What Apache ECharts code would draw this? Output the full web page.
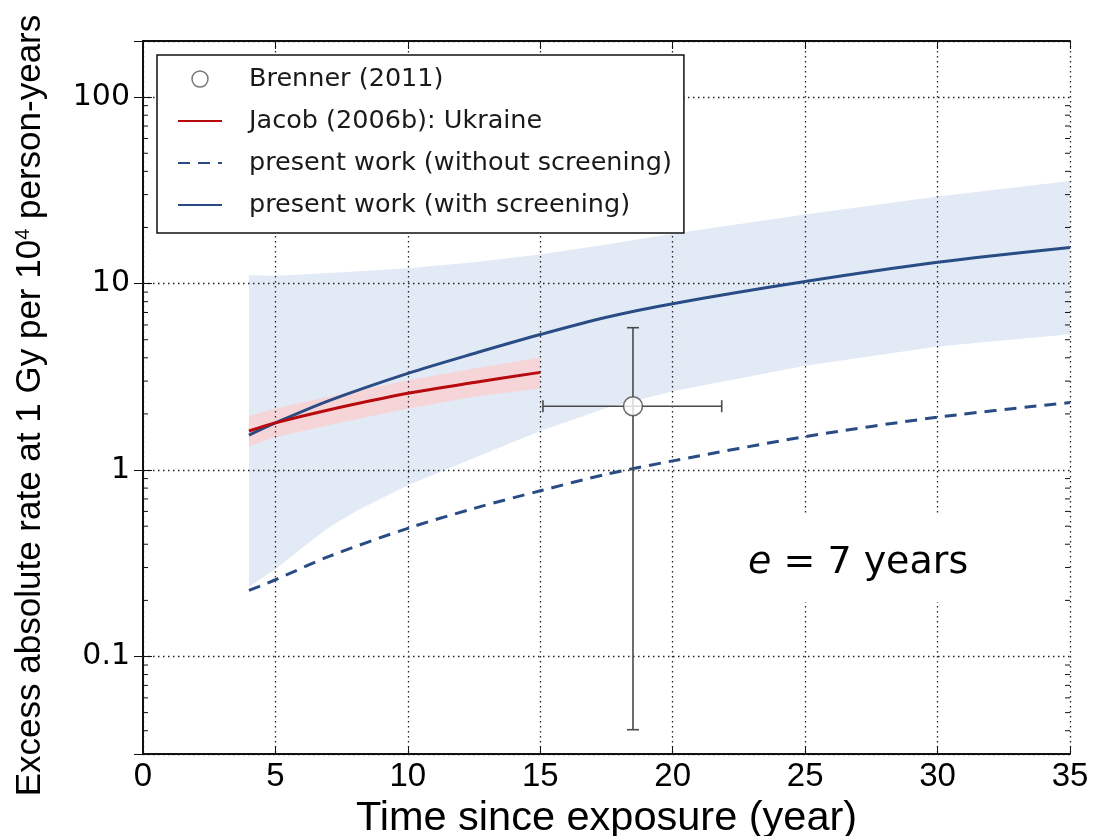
<!DOCTYPE html>
<html>
<head>
<meta charset="utf-8">
<script src="https://cdn.jsdelivr.net/npm/echarts@6/dist/echarts.min.js"></script>
<style>
  html, body { margin: 0; padding: 0; background: #fff; }
  #chart { width: 1093px; height: 836px; }
</style>
</head>
<body>
<div id="chart"></div>
<script>
// Model curves: excess absolute rate vs. time since exposure (years)
const curveYears        = [4, 5, 7, 10, 12.5, 15, 17.5, 20, 25, 30, 35];
const withScreening     = [1.54, 1.79, 2.35, 3.30, 4.22, 5.33, 6.6, 7.8, 10.25, 13.0, 15.6];
const withoutScreening  = [0.226, 0.258, 0.343, 0.487, 0.623, 0.774, 0.95, 1.12, 1.51, 1.92, 2.30];

// Uncertainty band of the screening model
const bandYears = [4, 5, 6, 7, 8, 10, 12.5, 15, 17.5, 20, 25, 30, 35];
const bandUpper = [11.1, 11.0, 11.2, 11.4, 11.6, 12.1, 13.0, 14.3, 16.2, 18.5, 23.5, 29.3, 35.5];
const bandLower = [0.236, 0.295, 0.382, 0.49, 0.598, 0.83, 1.16, 1.62, 2.15, 2.65, 3.62, 4.6, 5.35];

// Jacob (2006b), Ukraine, with its band
const jacobYears = [4, 5, 7, 10, 12.5, 15];
const jacobRate  = [1.62, 1.79, 2.10, 2.58, 2.95, 3.34];
const jacobUpper = [1.95, 2.14, 2.47, 3.03, 3.5, 4.01];
const jacobLower = [1.34, 1.50, 1.74, 2.14, 2.47, 2.74];

// Brenner (2011): point estimate with x and y ranges
const brennerPoint = [18.5, 2.2];
const brennerXRange = [15.1, 21.85];
const brennerYRange = [0.0405, 5.8];

// Axis ticks
const xTicks = [0, 5, 10, 15, 20, 25, 30, 35];
const minorTicks = [0.04, 0.05, 0.06, 0.07, 0.08, 0.09,
                    0.2, 0.3, 0.4, 0.5, 0.6, 0.7, 0.8, 0.9,
                    2, 3, 4, 5, 6, 7, 8, 9,
                    20, 30, 40, 50, 60, 70, 80, 90];

const names = {
  brenner: 'Brenner (2011)',
  jacob: 'Jacob (2006b): Ukraine',
  without: 'present work (without screening)',
  with: 'present work (with screening)'
};

const BLUE = '#2a4c85';
const RED = '#b70a0f';
const ARIAL = '"Liberation Sans", Arial, Helvetica, sans-serif';
const WIDE = '"DejaVu Sans", Verdana, sans-serif';

const zip = (xs, ys) => xs.map((x, i) => [x, ys[i]]);

function bandSeries(xs, upper, lower, fill) {
  return {
    type: 'custom',
    silent: true,
    z: 0,
    data: [[xs[0], upper[0]]],
    renderItem(params, api) {
      const pts = [];
      xs.forEach((x, i) => pts.push(api.coord([x, upper[i]])));
      for (let i = xs.length - 1; i >= 0; i--) pts.push(api.coord([xs[i], lower[i]]));
      return { type: 'polygon', shape: { points: pts }, style: { fill: fill } };
    }
  };
}

const chart = echarts.init(document.getElementById('chart'), null, { renderer: 'canvas' });

const frameLine = { show: true, lineStyle: { color: '#111', width: 2 } };
const gridDots = { show: true, lineStyle: { color: '#222', width: 1.3, type: [1.5, 3.5] } };
const hiddenSymbol = { opacity: 0 };

chart.setOption({
  animation: false,
  backgroundColor: '#fff',
  grid: { left: 143, right: 23, top: 41, bottom: 82, containLabel: false, outerBoundsMode: 'none' },
  legend: {
    orient: 'vertical',
    left: 157,
    top: 55,
    padding: [11, 12, 15, 20],
    itemGap: 16,
    itemWidth: 44,
    itemHeight: 16,
    backgroundColor: '#fff',
    borderColor: '#111',
    borderWidth: 1.5,
    borderRadius: 0,
    z: 10,
    textStyle: { fontFamily: WIDE, fontSize: 25.5, color: '#1a1a1a', lineHeight: 26, padding: [0, 0, 0, 22] },
    data: [
      { name: names.brenner, icon: 'circle', itemStyle: { color: '#fff', borderColor: '#555', borderWidth: 1.5 } },
      { name: names.jacob, itemStyle: hiddenSymbol },
      { name: names.without, itemStyle: hiddenSymbol },
      { name: names.with, itemStyle: hiddenSymbol }
    ]
  },
  xAxis: [
    {
      type: 'value', position: 'bottom', min: 0, max: 35, interval: 5, z: 1,
      axisLine: frameLine,
      axisTick: { show: true, inside: true, length: 8, lineStyle: { color: '#111', width: 1 } },
      axisLabel: { fontFamily: ARIAL, fontSize: 33, color: '#000', margin: 6,
                   formatter: v => xTicks.includes(v) ? String(v) : '' },
      splitLine: gridDots,
      name: 'Time since exposure (year)',
      nameLocation: 'middle',
      nameGap: 33,
      nameTextStyle: { fontFamily: ARIAL, fontSize: 41.5, color: '#000' }
    },
    {
      type: 'value', position: 'top', min: 0, max: 35, interval: 5, z: 1,
      axisLine: frameLine,
      axisTick: { show: true, inside: true, length: 8, lineStyle: { color: '#111', width: 1 } },
      axisLabel: { show: false },
      splitLine: { show: false }
    }
  ],
  yAxis: [
    {
      type: 'log', logBase: 10, position: 'left', min: 0.03, max: 200, z: 1,
      axisLine: frameLine,
      axisTick: { show: true, inside: true, length: 9, lineStyle: { color: '#111', width: 1 } },
      axisLabel: { fontFamily: WIDE, fontSize: 30, color: '#000', margin: 13,
                   showMinLabel: false, showMaxLabel: false },
      splitLine: gridDots,
      name: 'Excess absolute rate at 1 Gy per 10{sup|4} person-years',
      nameLocation: 'middle',
      nameGap: 95,
      nameTextStyle: {
        fontFamily: ARIAL, fontSize: 35, color: '#000', padding: [0, 16, 0, 0],
        rich: { sup: { fontFamily: ARIAL, fontSize: 20, color: '#000', verticalAlign: 'top', lineHeight: 35 } }
      }
    },
    {
      type: 'log', logBase: 10, position: 'right', min: 0.03, max: 200, z: 1,
      axisLine: frameLine,
      axisTick: { show: true, inside: true, length: 9, lineStyle: { color: '#111', width: 1 } },
      axisLabel: { show: false },
      splitLine: { show: false }
    }
  ],
  series: [
    bandSeries(bandYears, bandUpper, bandLower, '#e2eaf5'),
    bandSeries(jacobYears, jacobUpper, jacobLower, '#f6d5d9'),
    {
      name: names.without, type: 'line', z: 2, symbol: 'none', smooth: 0.3,
      data: zip(curveYears, withoutScreening),
      lineStyle: { color: BLUE, width: 3, type: [12, 8] },
      itemStyle: { color: BLUE }
    },
    {
      name: names.with, type: 'line', z: 2, symbol: 'none', smooth: 0.3,
      data: zip(curveYears, withScreening),
      lineStyle: { color: BLUE, width: 3 },
      itemStyle: { color: BLUE }
    },
    {
      name: names.jacob, type: 'line', z: 3, symbol: 'none', smooth: 0.3,
      data: zip(jacobYears, jacobRate),
      lineStyle: { color: RED, width: 3 },
      itemStyle: { color: RED }
    },
    {
      // Brenner ranges drawn as capped error bars
      type: 'custom', silent: true, z: 4,
      data: [[brennerPoint[0], brennerPoint[1], brennerXRange[0], brennerXRange[1], brennerYRange[0], brennerYRange[1]]],
      encode: { x: 0, y: 1 },
      renderItem(params, api) {
        const x = api.value(0), y = api.value(1);
        const lo = api.coord([x, api.value(4)]);
        const hi = api.coord([x, api.value(5)]);
        const left = api.coord([api.value(2), y]);
        const right = api.coord([api.value(3), y]);
        const cap = 6;
        const st = { stroke: '#4a4a4a', lineWidth: 1.6 };
        const seg = (x1, y1, x2, y2) => ({ type: 'line', shape: { x1, y1, x2, y2 }, style: st });
        return {
          type: 'group',
          children: [
            seg(lo[0], lo[1], hi[0], hi[1]),
            seg(lo[0] - cap, lo[1], lo[0] + cap, lo[1]),
            seg(hi[0] - cap, hi[1], hi[0] + cap, hi[1]),
            seg(left[0], left[1], right[0], right[1]),
            seg(left[0], left[1] - cap, left[0], left[1] + cap),
            seg(right[0], right[1] - cap, right[0], right[1] + cap)
          ]
        };
      }
    },
    {
      name: names.brenner, type: 'scatter', z: 5,
      symbol: 'circle', symbolSize: 19,
      data: [brennerPoint],
      itemStyle: { color: '#fff', borderColor: '#4a4a4a', borderWidth: 1.6 }
    },
    {
      // minor ticks of the log axis on both sides of the frame
      type: 'custom', silent: true, z: 6,
      data: minorTicks.map(v => [0, v]),
      encode: { x: 0, y: 1 },
      renderItem(params, api) {
        const v = api.value(1);
        const l = api.coord([0, v]);
        const r = api.coord([35, v]);
        const st = { stroke: '#111', lineWidth: 1 };
        return {
          type: 'group',
          children: [
            { type: 'line', shape: { x1: l[0], y1: l[1], x2: l[0] + 5, y2: l[1] }, style: st },
            { type: 'line', shape: { x1: r[0], y1: r[1], x2: r[0] - 5, y2: r[1] }, style: st }
          ]
        };
      }
    }
  ],
  graphic: [
    {
      type: 'rect', z: 1.5, silent: true,
      shape: { x: 733, y: 513, width: 250, height: 89 },
      style: { fill: '#fff' }
    },
    {
      type: 'text', z: 10, silent: true,
      x: 748, y: 563,
      style: {
        text: '{i|e} = 7 years',
        align: 'left',
        verticalAlign: 'middle',
        fontFamily: WIDE,
        fontSize: 38,
        fill: '#000',
        rich: {
          i: { fontFamily: WIDE, fontSize: 38, fontStyle: 'italic', fill: '#000' }
        }
      }
    }
  ]
});
</script>
</body>
</html>
